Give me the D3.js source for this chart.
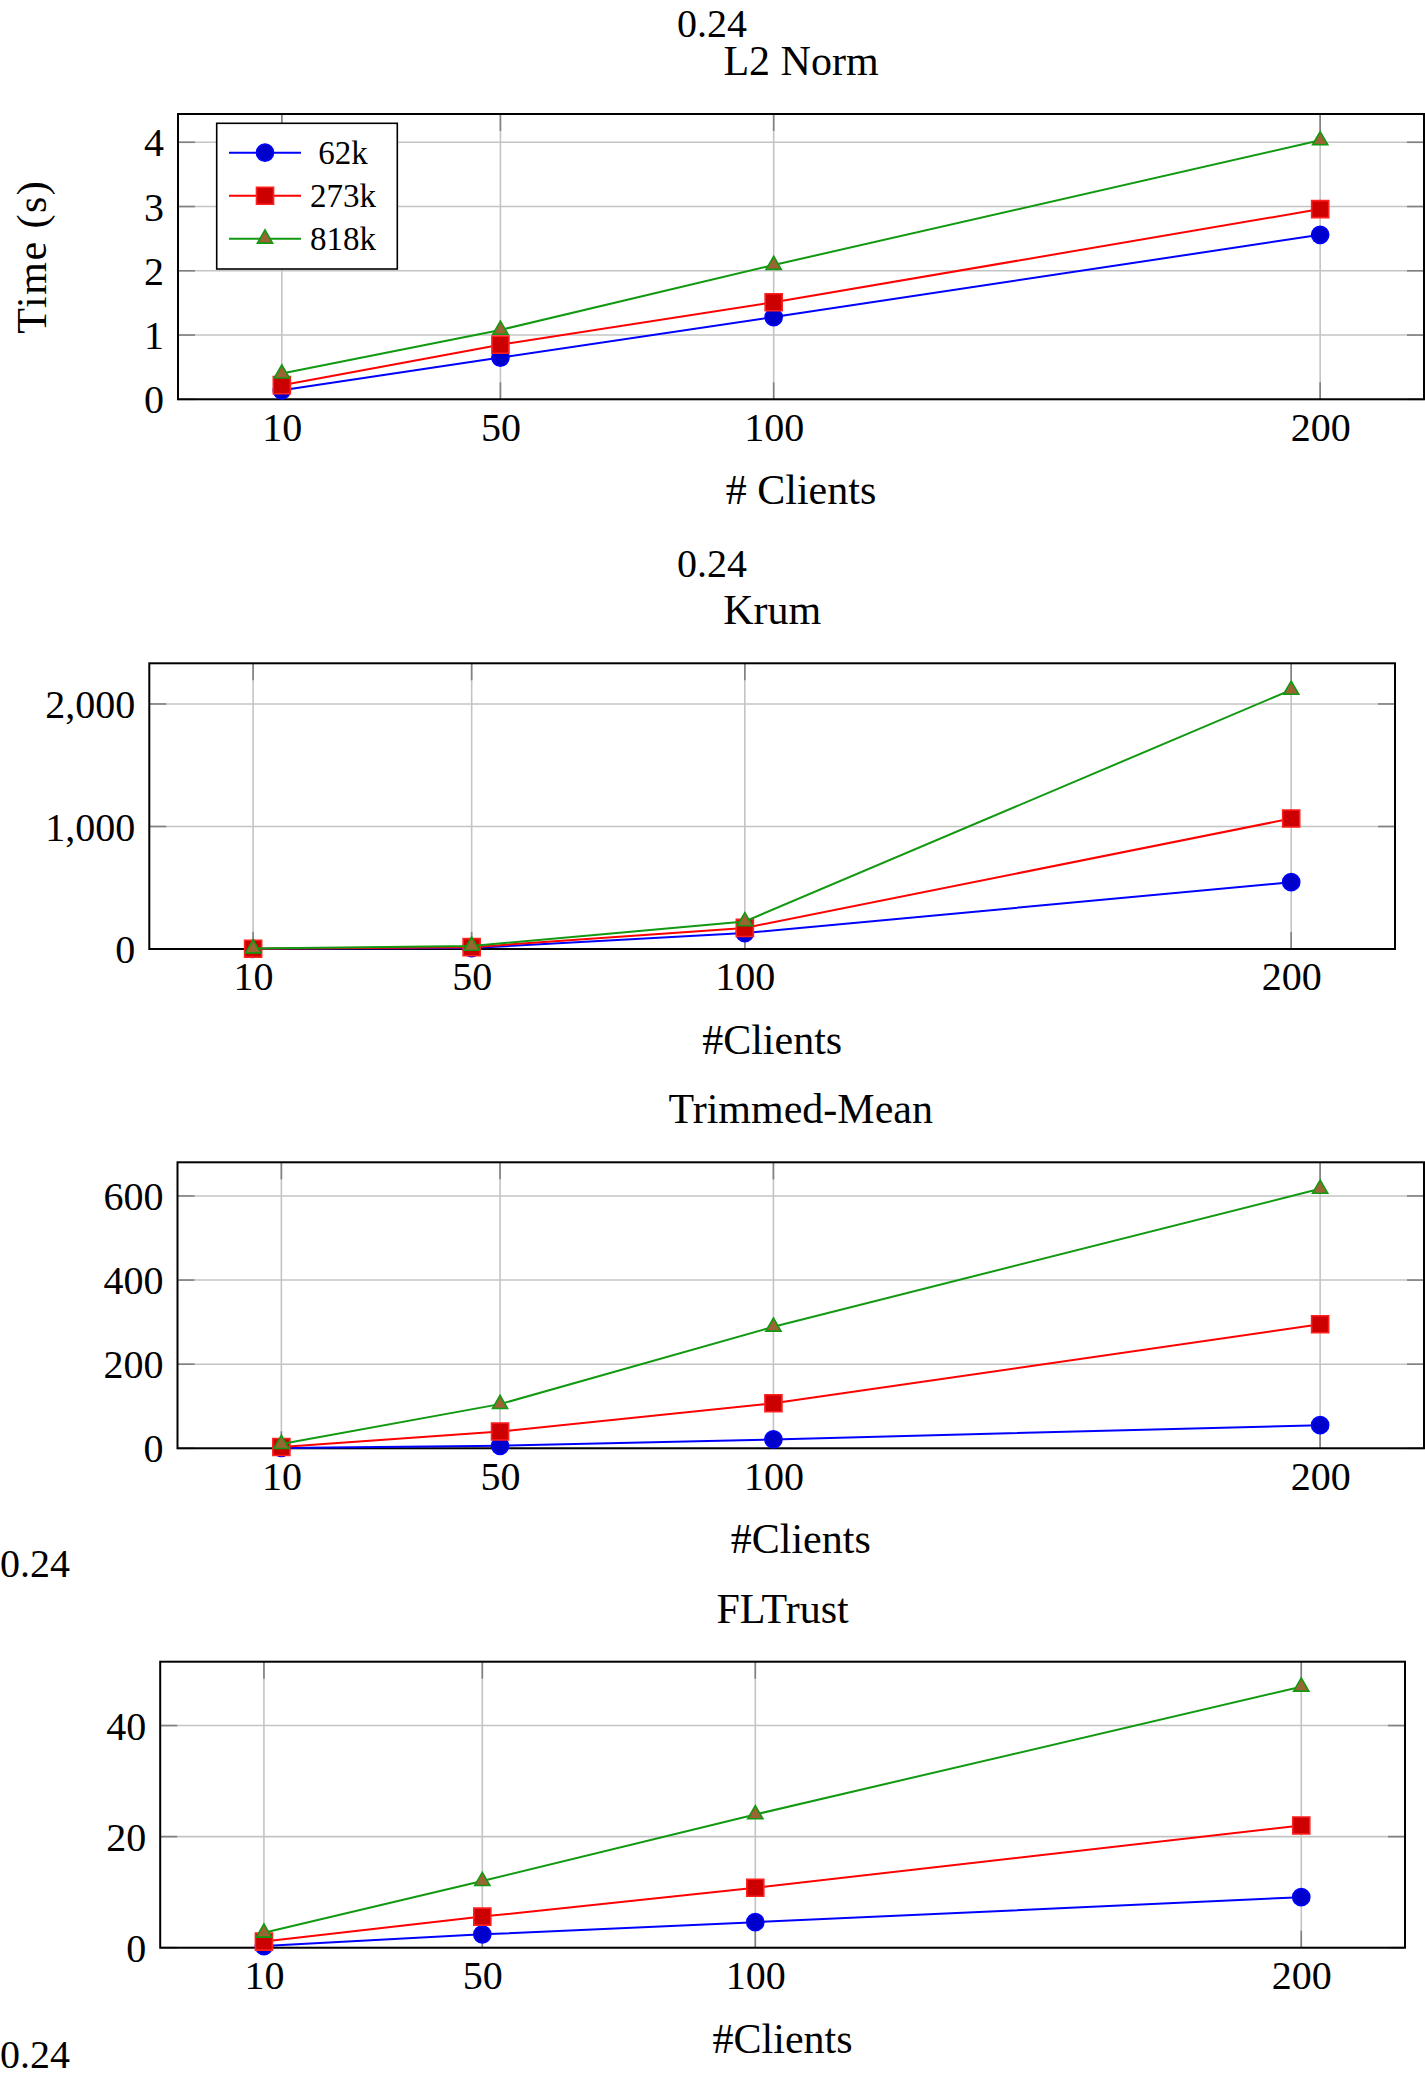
<!DOCTYPE html>
<html>
<head>
<meta charset="utf-8">
<script src="https://cdn.jsdelivr.net/npm/d3@7"></script>
<style>
  body { margin: 0; background: #fff; }
  svg { display: block; font-family: "Liberation Serif", "DejaVu Serif", serif; }
  svg text { font-family: "Liberation Serif", "DejaVu Serif", serif; }
</style>
</head>
<body>
<svg id="chart" width="1425" height="2077"></svg>
<script>
// data
var clients = [10, 50, 100, 200];
var xTickLabels = ["10", "50", "100", "200"];
var seriesNames = ["62k", "273k", "818k"];

var l2Norm62k = [0.14, 0.65, 1.28, 2.56];
var l2Norm273k = [0.22, 0.85, 1.51, 2.96];
var l2Norm818k = [0.40, 1.08, 2.09, 4.03];

var krum62k = [1, 8, 130, 545];
var krum273k = [2, 15, 172, 1065];
var krum818k = [4, 25, 225, 2115];

var trimmed62k = [1, 6, 21, 55];
var trimmed273k = [3, 40, 107, 295];
var trimmed818k = [10, 105, 289, 617];

var fltrust62k = [0.3, 2.4, 4.6, 9.1];
var fltrust273k = [1.1, 5.6, 10.8, 22];
var fltrust818k = [2.7, 12, 24, 47];

var l2NormTicks = [0, 1, 2, 3, 4];
var krumTicks = [0, 1000, 2000];
var trimmedTicks = [0, 200, 400, 600];
var fltrustTicks = [0, 20, 40];

var styles = [
  { line: "#0000ff", fill: "#0000cc", stroke: "#0000ff", shape: d3.symbolCircle, size: 230 },
  { line: "#ff0000", fill: "#cc0000", stroke: "#ff2020", shape: d3.symbolSquare, size: 290 },
  { line: "#119911", fill: "#996633", stroke: "#119911", shape: d3.symbolTriangle, size: 100 }
];

var panels = [
  { title: "L2 Norm", xlabel: "# Clients", ylabel: "Time (s)", legend: true,
    left: 178, right: 1424, top: 114, bottom: 399.3, ymax: 4.44,
    ticks: l2NormTicks, fmt: d3.format("d"),
    series: [l2Norm62k, l2Norm273k, l2Norm818k] },
  { title: "Krum", xlabel: "#Clients",
    left: 149.3, right: 1395, top: 663.3, bottom: 949, ymax: 2332,
    ticks: krumTicks, fmt: d3.format(",d"),
    series: [krum62k, krum273k, krum818k] },
  { title: "Trimmed-Mean", xlabel: "#Clients",
    left: 177.5, right: 1424, top: 1162.3, bottom: 1448.3, ymax: 680,
    ticks: trimmedTicks, fmt: d3.format("d"),
    series: [trimmed62k, trimmed273k, trimmed818k] },
  { title: "FLTrust", xlabel: "#Clients",
    left: 160.2, right: 1405, top: 1661.7, bottom: 1947.7, ymax: 51.5,
    ticks: fltrustTicks, fmt: d3.format("d"),
    series: [fltrust62k, fltrust273k, fltrust818k] }
];

// the stray "0.24" labels from the source document
var strayLabels = [
  { x: 712, y: 37, anchor: "middle" },
  { x: 712, y: 577, anchor: "middle" },
  { x: 0, y: 1577, anchor: "start" },
  { x: 0, y: 2068, anchor: "start" }
];

var svg = d3.select("#chart");
var tickLen = 17;

svg.selectAll("text.stray")
  .data(strayLabels)
  .enter().append("text")
  .attr("class", "stray")
  .attr("x", function (d) { return d.x; })
  .attr("y", function (d) { return d.y; })
  .attr("text-anchor", function (d) { return d.anchor; })
  .attr("font-size", 40)
  .text("0.24");

panels.forEach(function (p) {
  var x = d3.scaleLinear().domain([-9, 219]).range([p.left, p.right]),
      y = d3.scaleLinear().domain([0, p.ymax]).range([p.bottom, p.top]);

  var g = svg.append("g");

  // grid
  g.selectAll("line.vgrid").data(clients).enter().append("line")
    .attr("x1", function (d) { return x(d); }).attr("x2", function (d) { return x(d); })
    .attr("y1", p.top).attr("y2", p.bottom)
    .attr("stroke", "#c4c4c4").attr("stroke-width", 1.6);
  g.selectAll("line.hgrid").data(p.ticks).enter().append("line")
    .attr("x1", p.left).attr("x2", p.right)
    .attr("y1", function (d) { return y(d); }).attr("y2", function (d) { return y(d); })
    .attr("stroke", "#c4c4c4").attr("stroke-width", 1.6);

  // inner tick marks on all four sides
  clients.forEach(function (c) {
    [[p.bottom, p.bottom - tickLen], [p.top, p.top + tickLen]].forEach(function (s) {
      g.append("line").attr("x1", x(c)).attr("x2", x(c)).attr("y1", s[0]).attr("y2", s[1])
        .attr("stroke", "#808080").attr("stroke-width", 1.6);
    });
  });
  p.ticks.forEach(function (t) {
    [[p.left, p.left + tickLen], [p.right, p.right - tickLen]].forEach(function (s) {
      g.append("line").attr("x1", s[0]).attr("x2", s[1]).attr("y1", y(t)).attr("y2", y(t))
        .attr("stroke", "#808080").attr("stroke-width", 1.6);
    });
  });

  // frame
  g.append("rect")
    .attr("x", p.left).attr("y", p.top)
    .attr("width", p.right - p.left).attr("height", p.bottom - p.top)
    .attr("fill", "none").attr("stroke", "#000").attr("stroke-width", 2);

  // tick labels
  var xAxis = d3.axisBottom(x).tickValues(clients)
    .tickFormat(function (d, i) { return xTickLabels[i]; })
    .tickSize(0).tickPadding(13);
  var yAxis = d3.axisLeft(y).tickValues(p.ticks).tickFormat(p.fmt)
    .tickSize(0).tickPadding(14);

  g.append("g").attr("transform", "translate(0," + p.bottom + ")").call(xAxis)
    .attr("font-family", null).attr("font-size", 40)
    .call(function (a) { a.select(".domain").remove(); })
    .selectAll("text").attr("fill", "#000");
  g.append("g").attr("transform", "translate(" + p.left + ",0)").call(yAxis)
    .attr("font-family", null).attr("font-size", 40)
    .call(function (a) { a.select(".domain").remove(); })
    .selectAll("text").attr("fill", "#000").attr("dy", "0.34em");

  var cx = (p.left + p.right) / 2;
  g.append("text").attr("x", cx).attr("y", p.top - 39)
    .attr("text-anchor", "middle").attr("font-size", 42).text(p.title);
  g.append("text").attr("x", cx).attr("y", p.bottom + 105)
    .attr("text-anchor", "middle").attr("font-size", 42).text(p.xlabel);
  if (p.ylabel) {
    g.append("text")
      .attr("transform", "translate(46," + ((p.top + p.bottom) / 2) + ") rotate(-90)")
      .attr("text-anchor", "middle").attr("font-size", 42)
      .attr("letter-spacing", 1.5).text(p.ylabel);
  }

  // series
  var line = d3.line()
    .x(function (d, i) { return x(clients[i]); })
    .y(function (d) { return y(d); });

  p.series.forEach(function (vals, k) {
    var st = styles[k];
    g.append("path").datum(vals)
      .attr("d", line).attr("fill", "none")
      .attr("stroke", st.line).attr("stroke-width", 2);
    g.selectAll(null).data(vals).enter().append("path")
      .attr("transform", function (d, i) { return "translate(" + x(clients[i]) + "," + y(d) + ")"; })
      .attr("d", d3.symbol().type(st.shape).size(st.size))
      .attr("fill", st.fill).attr("stroke", st.stroke).attr("stroke-width", 1.6);
  });

  if (p.legend) {
    var lg = g.append("g");
    lg.append("rect").attr("x", 216.7).attr("y", 123.3)
      .attr("width", 180.6).attr("height", 145.7)
      .attr("fill", "#fff").attr("stroke", "#000").attr("stroke-width", 1.6);
    seriesNames.forEach(function (name, k) {
      var st = styles[k], ly = 152.7 + k * 43;
      lg.append("line").attr("x1", 229).attr("x2", 301).attr("y1", ly).attr("y2", ly)
        .attr("stroke", st.line).attr("stroke-width", 2);
      lg.append("path").attr("transform", "translate(265," + ly + ")")
        .attr("d", d3.symbol().type(st.shape).size(st.size))
        .attr("fill", st.fill).attr("stroke", st.stroke).attr("stroke-width", 1.6);
      lg.append("text").attr("x", 343).attr("y", ly + 11)
        .attr("text-anchor", "middle").attr("font-size", 33).text(name);
    });
  }
});
</script>
</body>
</html>
